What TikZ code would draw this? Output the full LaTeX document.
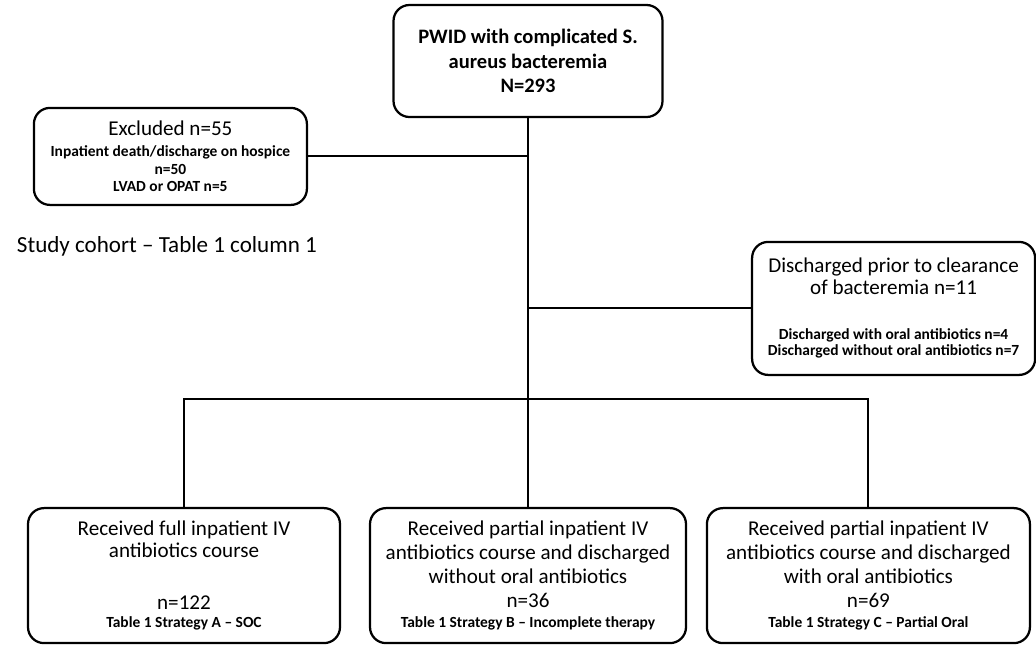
\documentclass[tikz,border=0pt]{standalone}
\usepackage{fontspec}
\setmainfont{Carlito}
\usetikzlibrary{calc}
\newcommand{\titlefont}{\fontsize{15}{17}\selectfont}
\newcommand{\smallfont}{\fontsize{11}{12.5}\selectfont\bfseries}
\tikzset{
  flowbox/.style={draw, line width=1.6pt, rounded corners=0.4cm, align=center, inner sep=2pt, font=\titlefont},
  link/.style={line width=1.4pt}
}
\begin{document}
\begin{tikzpicture}
\useasboundingbox (0,0) rectangle (25.9,-16.125);

\node[flowbox, minimum width=6.725cm, minimum height=2.8cm, font=\fontsize{14.6}{17.4}\selectfont\bfseries] (top) at (13.2,-1.525)
  {PWID with complicated S.\\ aureus bacteremia\\ N=293};
\node[flowbox, minimum width=6.825cm, minimum height=2.425cm] (excl) at (4.26,-3.91)
  {Excluded n=55\\[-2pt] \smallfont Inpatient death/discharge on hospice\\[-4.7pt] \smallfont n=50\\[-4.7pt] \smallfont LVAD or OPAT n=5};
\node[anchor=west, font=\fontsize{16.4}{19}\selectfont] (cohort) at (0.3,-6.15) {Study cohort -- Table 1 column 1};
\node[flowbox, minimum width=7.075cm, minimum height=3.325cm] (disc) at (22.34,-7.71)
  {Discharged prior to clearance\\[-2pt] of bacteremia n=11\\[15pt] \smallfont Discharged with oral antibiotics n=4\\[-5pt] \smallfont Discharged without oral antibiotics n=7};

\node[flowbox, minimum width=7.8cm, minimum height=3.375cm] (A) at (4.6,-14.39)
  {Received full inpatient IV\\[-1.4pt] antibiotics course\\[20pt] n=122\\[-4pt] \smallfont Table 1 Strategy A -- SOC};
\node[flowbox, minimum width=7.9cm, minimum height=3.375cm] (B) at (13.2,-14.39)
  {Received partial inpatient IV\\ antibiotics course and discharged\\ without oral antibiotics\\ n=36\\[-3pt] \smallfont Table 1 Strategy B -- Incomplete therapy};
\node[flowbox, minimum width=8.075cm, minimum height=3.375cm] (C) at (21.71,-14.39)
  {Received partial inpatient IV\\ antibiotics course and discharged\\ with oral antibiotics\\ n=69\\[-3pt] \smallfont Table 1 Strategy C -- Partial Oral};

\coordinate (bar) at (0,-9.975);
\draw[link] (top.south) -- (B.north);
\draw[link] (excl.east) -- (excl.east -| top.south);
\draw[link] (disc.west) -- (disc.west -| top.south);
\draw[link] (A.north) |- (bar -| B.north) -| (C.north);
\end{tikzpicture}
\end{document}
